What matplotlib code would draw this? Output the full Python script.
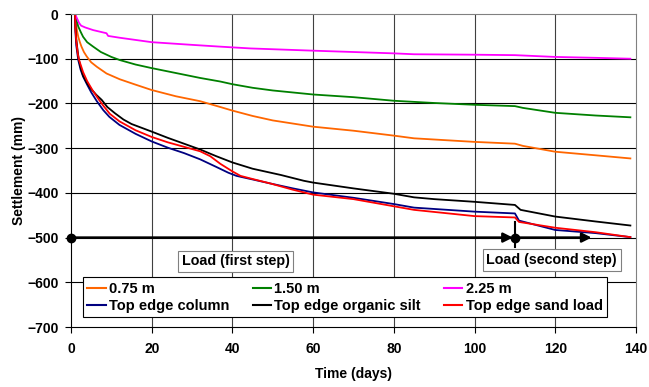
import numpy as np
import matplotlib.pyplot as plt

plt.rcParams['font.family'] = ['Liberation Sans', 'DejaVu Sans']
plt.rcParams['font.weight'] = 'bold'
plt.rcParams['font.size'] = 10

# settlement readings (days, mm)
t_075 = [1.0, 1.2, 1.5, 1.8, 2.2, 2.6, 3.2, 3.9, 5, 6.4, 8.8, 12.1, 16, 20, 26, 32, 37, 40, 45, 50, 60, 70, 80, 85, 100, 110, 112, 120, 130, 138.6]
s_075 = [0, -20, -38, -51, -63, -73, -85, -95, -108, -118, -133, -146, -158, -170, -184, -195, -208, -216, -228, -238, -252, -261, -272, -278, -286, -290, -295, -308, -316, -323]

t_150 = [1.0, 1.3, 1.8, 2.4, 3, 4, 5.5, 7.4, 10, 12.1, 16, 20, 26, 32, 37, 40, 45, 50, 60, 70, 80, 90, 100, 110, 112, 120, 130, 138.6]
s_150 = [0, -12, -28, -40, -51, -63, -73, -85, -96, -103, -113, -121, -132, -143, -151, -157, -165, -171, -180, -186, -194, -199, -203, -206, -210, -221, -227, -231]

t_225 = [1.0, 1.3, 1.6, 2.0, 2.5, 3.5, 5.5, 8.8, 9.2, 12, 16, 20, 30, 37, 44.5, 60, 80, 85, 100, 110, 120, 130, 138.6]
s_225 = [0, -6, -12, -20, -26, -30, -36, -43, -49, -53, -58, -63, -69, -73, -77, -82, -88, -90, -91, -92, -96, -98, -100]

t_col = [1.0, 1.1, 1.3, 1.8, 2.4, 3, 4, 5, 6.4, 8, 9.5, 12, 16, 20, 24, 28, 32, 36, 39, 41, 45, 49.4, 55, 60, 70, 80, 85, 100, 110, 111, 120, 130, 138.6]
s_col = [0, -40, -70, -103, -125, -140, -158, -175, -195, -215, -230, -248, -268, -285, -299, -311, -325, -342, -355, -362, -370, -379, -390, -399, -411, -425, -433, -442, -446, -462, -483, -490, -499]

t_silt = [1.0, 1.1, 1.3, 1.6, 1.9, 2.4, 3, 4, 5, 6.3, 7.6, 9, 10.9, 13, 15, 20, 24, 28, 32, 36, 40, 45, 52, 57.7, 60, 70, 80, 85, 90, 100, 110, 111.4, 120, 130, 138.6]
s_silt = [0, -30, -55, -80, -100, -120, -138, -155, -168, -181, -192, -208, -222, -236, -246, -263, -277, -290, -303, -318, -332, -346, -360, -373, -377, -390, -402, -410, -414, -420, -427, -438, -453, -464, -473]

t_sand = [1.0, 1.1, 1.3, 1.7, 2.0, 3, 4, 5.3, 6.8, 8, 9.6, 12, 16, 20, 24, 28, 32, 34.5, 37, 40, 42, 45, 49.4, 55, 60, 70, 80, 85, 100, 110, 111, 120, 130, 138.6]
s_sand = [0, -35, -60, -90, -103, -130, -150, -170, -190, -205, -223, -240, -260, -275, -287, -297, -307, -318, -335, -352, -362, -369, -379, -393, -404, -414, -430, -438, -452, -455, -465, -478, -488, -499]

load_level = -500
step_day = 110

fig = plt.figure(figsize=(6.49, 3.87), dpi=100)
ax = fig.add_axes([0.1094, 0.155, 0.8706, 0.8088])

lw = 1.3
ax.plot(t_075, s_075, color='#FF6600', lw=lw, label='0.75 m')
ax.plot(t_col, s_col, color='#000080', lw=lw, label='Top edge column')
ax.plot(t_150, s_150, color='#008000', lw=lw, label='1.50 m')
ax.plot(t_silt, s_silt, color='black', lw=lw, label='Top edge organic silt')
ax.plot(t_225, s_225, color='#FF00FF', lw=lw, label='2.25 m')
ax.plot(t_sand, s_sand, color='#FF0000', lw=lw, label='Top edge sand load')

# load steps
ax.annotate('', xy=(step_day - 0.5, load_level), xytext=(0, load_level),
            arrowprops=dict(arrowstyle='-|>', lw=1.8, color='black', mutation_scale=14, shrinkA=0, shrinkB=0))
ax.annotate('', xy=(129, load_level), xytext=(step_day, load_level),
            arrowprops=dict(arrowstyle='-|>', lw=1.8, color='black', mutation_scale=14, shrinkA=0, shrinkB=0))
ax.plot([0, step_day], [load_level, load_level], 'o', color='black', ms=6, clip_on=False, zorder=5)
ax.plot([step_day, step_day], [-465, -520], color='black', lw=1.5)

box = dict(boxstyle='square,pad=0.25', fc='white', ec='#808080', lw=0.8)
ax.text(40.8, -553, 'Load (first step)', ha='center', va='center', fontsize=10.3, bbox=box)
ax.text(119.1, -550, 'Load (second step)', ha='center', va='center', fontsize=10.3, bbox=box)

ax.set_xlim(0, 140)
ax.set_ylim(-700, 0)
ax.set_xticks(np.arange(0, 141, 20))
ax.set_yticks(np.arange(-700, 1, 100))
ax.tick_params(direction='out', length=4, width=0.8, color='black', labelsize=10, pad=5)
ax.tick_params(axis='x', pad=7)

for v in range(20, 140, 20):
    ax.axvline(v, color='#404040', lw=0.8, zorder=0)
for h in range(-600, 0, 100):
    ax.axhline(h, color='black', lw=0.8, zorder=0)

ax.spines['left'].set_color('black')
ax.spines['bottom'].set_color('black')
ax.spines['top'].set_color('#808080')
ax.spines['right'].set_color('#808080')

ax.set_xlabel('Time (days)', fontweight='bold', labelpad=8)
ax.set_ylabel('Settlement (mm)', fontweight='bold', labelpad=1)

leg = ax.legend(ncol=3, loc='lower left', bbox_to_anchor=(0.0212, 0.032, 0.9275, 0.131),
                mode='expand', borderaxespad=0, fancybox=False, framealpha=1,
                edgecolor='black', handlelength=1.25, handletextpad=0.25,
                borderpad=0.3, labelspacing=0.2, fontsize=10.5)
leg.get_frame().set_linewidth(0.8)
for line in leg.get_lines():
    line.set_linewidth(1.5)

fig.savefig('out.png', dpi=100)
